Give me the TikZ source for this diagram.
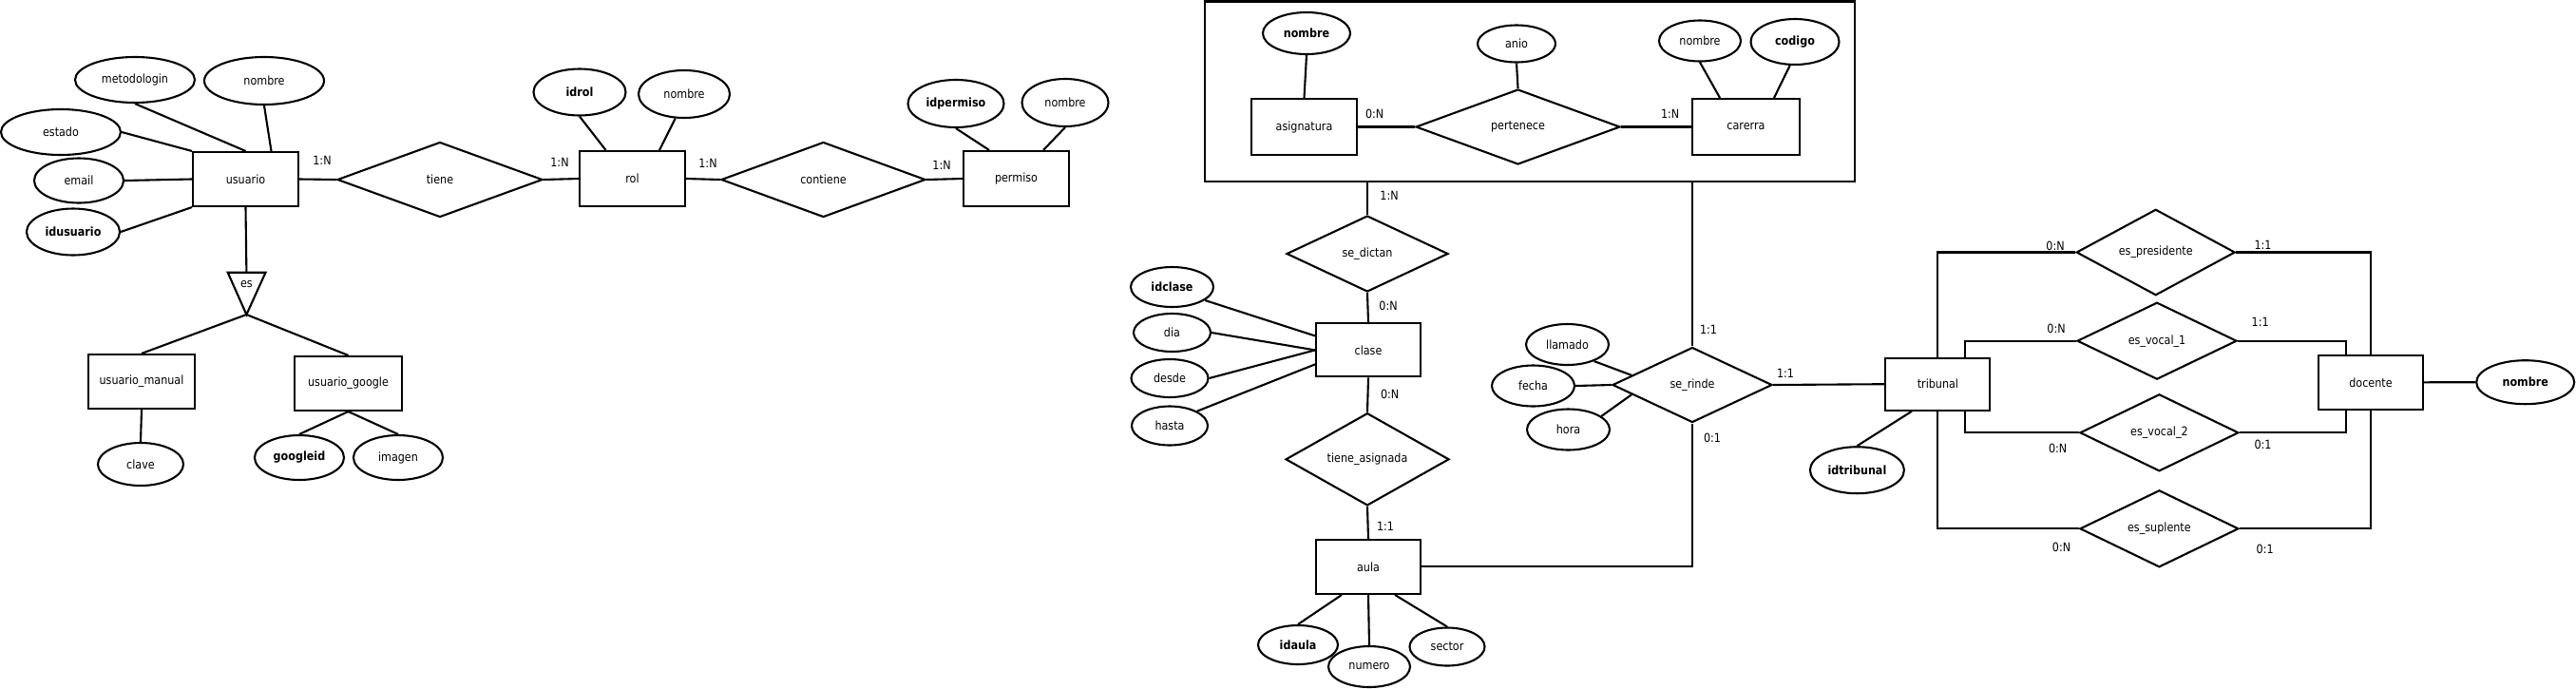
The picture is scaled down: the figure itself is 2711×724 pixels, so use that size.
\documentclass[tikz,border=0pt]{standalone}
\usepackage{fontspec}
\setmainfont{DejaVu Sans}[FakeStretch=0.88]
\usetikzlibrary{shapes.geometric,calc}
\tikzset{
  every node/.style={font=\fontsize{12.7}{15}\selectfont},
  lw/.style={line width=2.1pt},
  ent/.style={draw,lw,rectangle,inner sep=0pt},
  attr/.style={draw,lw,ellipse,inner sep=0pt},
  keyattr/.style={attr,font=\fontsize{12.7}{15}\selectfont\bfseries},
  rel/.style={draw,lw,diamond,inner sep=0pt},
  card/.style={inner sep=0pt},
  conn/.style={lw}
}
\begin{document}
\begin{tikzpicture}[x=1pt,y=-1pt]
\useasboundingbox (0,0) rectangle (2711,724);
% aggregation box
\node[draw,lw,minimum width=683.5pt,minimum height=189.5pt,inner sep=0pt] (agg) at (1610.1,96.25) {};
% entities
\node[ent,minimum width=111pt,minimum height=57pt] (usu) at (258.5,188.5) {usuario};
\node[ent,minimum width=111pt,minimum height=58pt] (rol) at (665.5,188) {rol};
\node[ent,minimum width=111pt,minimum height=58pt] (perm) at (1069.5,188) {permiso};
\node[ent,minimum width=112pt,minimum height=57pt] (um) at (149,401.5) {usuario\_manual};
\node[ent,minimum width=113pt,minimum height=57pt] (ug) at (366.5,403.5) {usuario\_google};
\node[ent,minimum width=111pt,minimum height=59pt] (asig) at (1372.5,133.5) {asignatura};
\node[ent,minimum width=113pt,minimum height=59pt] (car) at (1837.5,133.5) {carerra};
\node[ent,minimum width=110pt,minimum height=56pt] (clase) at (1440,368.4) {clase};
\node[ent,minimum width=110pt,minimum height=57pt] (aula) at (1440,596.4) {aula};
\node[ent,minimum width=110pt,minimum height=55pt] (trib) at (2039.4,404.2) {tribunal};
\node[ent,minimum width=110pt,minimum height=57pt] (doc) at (2495,402.3) {docente};
% attributes
\node[attr,minimum width=126pt,minimum height=48pt] (metodologin) at (142,84) {metodologin};
\node[attr,minimum width=126pt,minimum height=50pt] (usunombre) at (278,85) {nombre};
\node[attr,minimum width=126pt,minimum height=48pt] (estado) at (64,139) {estado};
\node[attr,minimum width=94pt,minimum height=47pt] (email) at (83,190) {email};
\node[keyattr,minimum width=98pt,minimum height=49pt] (idusuario) at (77,244) {idusuario};
\node[keyattr,minimum width=97pt,minimum height=49pt] (idrol) at (610,97) {idrol};
\node[attr,minimum width=96pt,minimum height=50pt] (rolnombre) at (720,99) {nombre};
\node[keyattr,minimum width=101pt,minimum height=50pt] (idpermiso) at (1006,109) {idpermiso};
\node[attr,minimum width=91pt,minimum height=50pt] (permnombre) at (1121,108) {nombre};
\node[attr,minimum width=90pt,minimum height=45pt] (clave) at (148,488.5) {clave};
\node[keyattr,minimum width=94pt,minimum height=47pt] (googleid) at (315,481.5) {googleid};
\node[attr,minimum width=94pt,minimum height=47pt] (imagen) at (419,481.5) {imagen};
\node[keyattr,minimum width=92pt,minimum height=44pt] (asignombre) at (1375,35) {nombre};
\node[attr,minimum width=82pt,minimum height=39pt] (anio) at (1596,46) {anio};
\node[attr,minimum width=86pt,minimum height=43pt] (carnombre) at (1789,43) {nombre};
\node[keyattr,minimum width=93pt,minimum height=48pt] (codigo) at (1889,44) {codigo};
\node[keyattr,minimum width=87pt,minimum height=42pt] (idclase) at (1233.5,302) {idclase};
\node[attr,minimum width=81pt,minimum height=40pt] (dia) at (1233.5,350) {dia};
\node[attr,minimum width=81pt,minimum height=40pt] (desde) at (1231,398) {desde};
\node[attr,minimum width=80pt,minimum height=41pt] (hasta) at (1231,448) {hasta};
\node[keyattr,minimum width=84pt,minimum height=41pt] (idaula) at (1366,678.5) {idaula};
\node[attr,minimum width=86pt,minimum height=43pt] (numero) at (1441,701.5) {numero};
\node[attr,minimum width=79pt,minimum height=40pt] (sector) at (1523,680.5) {sector};
\node[attr,minimum width=87pt,minimum height=43pt] (llamado) at (1649.5,362.5) {llamado};
\node[attr,minimum width=87pt,minimum height=43pt] (fecha) at (1613.5,406) {fecha};
\node[attr,minimum width=87pt,minimum height=43pt] (hora) at (1650.5,452) {hora};
\node[keyattr,minimum width=99pt,minimum height=49pt] (idtribunal) at (1954.4,494.7) {idtribunal};
\node[keyattr,minimum width=103pt,minimum height=46pt] (docnombre) at (2657.7,402.2) {nombre};
% relationships
\node[rel,minimum width=216pt,minimum height=79pt] (tiene) at (463,189) {tiene};
\node[rel,minimum width=215pt,minimum height=79pt] (contiene) at (866.5,189) {contiene};
\node[rel,minimum width=215pt,minimum height=79pt] (pertenece) at (1597.5,133.5) {pertenece};
\node[rel,minimum width=170pt,minimum height=80pt] (sedictan) at (1439,267) {se\_dictan};
\node[rel,minimum width=172pt,minimum height=81pt] (tieneasig) at (1439,483.3) {tiene\_asignada};
\node[rel,minimum width=168pt,minimum height=79pt] (serinde) at (1781,405) {se\_rinde};
\node[rel,minimum width=167pt,minimum height=81pt] (espres) at (2268.7,265.5) {es\_presidente};
\node[rel,minimum width=168pt,minimum height=81pt] (esvoc1) at (2270,358.7) {es\_vocal\_1};
\node[rel,minimum width=167pt,minimum height=81pt] (esvoc2) at (2272.4,455.3) {es\_vocal\_2};
\node[rel,minimum width=167pt,minimum height=81pt] (essup) at (2272.4,556.3) {es\_suplente};
% ISA triangle
\coordinate (estl) at (239.7,286.7);
\coordinate (estr) at (279.5,286.7);
\coordinate (estop) at (259.4,286.7);
\coordinate (estip) at (259.4,331);
\draw[lw,line join=miter] (estl) -- (estr) -- (estip) -- cycle;
\node[inner sep=0pt] (estext) at (259.4,299) {es};
% connectors: usuario
\draw[conn] (metodologin.south) -- (usu.north);
\draw[conn] (usunombre.south) -- ([xshift=27pt]usu.north);
\draw[conn] (estado.east) -- (usu.north west);
\draw[conn] (email.east) -- (usu.west);
\draw[conn] (idusuario.east) -- (usu.south west);
\draw[conn] (usu.east) -- (tiene.west);
\draw[conn] (tiene.east) -- (rol.west);
\draw[conn] (rol.east) -- (contiene.west);
\draw[conn] (contiene.east) -- (perm.west);
\draw[conn] (idrol.south) -- ([xshift=-28pt]rol.north);
\draw[conn] (rolnombre.250) -- ([xshift=28.5pt]rol.north);
\draw[conn] (idpermiso.south) -- ([xshift=-28.5pt]perm.north);
\draw[conn] (permnombre.south) -- ([xshift=28.5pt]perm.north);
\draw[conn] (usu.south) -- (estop);
\draw[conn] (estip) -- (um.north);
\draw[conn] (estip) -- (ug.north);
\draw[conn] (um.south) -- (clave.north);
\draw[conn] (ug.south) -- (googleid.north);
\draw[conn] (ug.south) -- (imagen.north);
% aggregation internals
\draw[conn] (asignombre.south) -- (asig.north);
\draw[conn] (asig.east) -- (pertenece.west);
\draw[conn] (pertenece.east) -- (car.west);
\draw[conn] (anio.south) -- (pertenece.north);
\draw[conn] (carnombre.south) -- ([xshift=-27.5pt]car.north);
\draw[conn] (codigo.258) -- ([xshift=29.5pt]car.north);
% clase / aula
\draw[conn] (sedictan.north |- agg.south) -- (sedictan.north);
\draw[conn] (sedictan.south) -- (clase.north);
\draw[conn] (clase.south) -- (tieneasig.north);
\draw[conn] (tieneasig.south) -- (aula.north);
\draw[conn] (idclase.-22) -- ([yshift=15pt]clase.west);
\draw[conn] (dia.east) -- (clase.west);
\draw[conn] (desde.east) -- (clase.west);
\draw[conn] (hasta.28) -- ([yshift=-15pt]clase.west);
\draw[conn] ([xshift=-28pt]aula.south) -- (idaula.north);
\draw[conn] (aula.south) -- (numero.north);
\draw[conn] ([xshift=28pt]aula.south) -- (sector.north);
% se_rinde
\draw[conn] (aula.east) -| (serinde.south);
\draw[conn] (serinde.north |- agg.south) -- (serinde.north);
\draw[conn] (llamado.-32) -- ($(serinde.west)!0.25!(serinde.north)$);
\draw[conn] (fecha.east) -- (serinde.west);
\draw[conn] (hora.22) -- ($(serinde.west)!0.25!(serinde.south)$);
\draw[conn] (serinde.east) -- (trib.west);
\draw[conn] ([xshift=-27.4pt]trib.south) -- (idtribunal.north);
% tribunal - docente
\draw[conn] (trib.north) |- (espres.west);
\draw[conn] (espres.east) -| (doc.north);
\draw[conn] ([xshift=28.6pt]trib.north) |- (esvoc1.west);
\draw[conn] (esvoc1.east) -| ([xshift=-26pt]doc.north);
\draw[conn] ([xshift=28.6pt]trib.south) |- (esvoc2.west);
\draw[conn] (esvoc2.east) -| ([xshift=-26pt]doc.south);
\draw[conn] (trib.south) |- (essup.west);
\draw[conn] (essup.east) -| (doc.south);
\draw[conn] (doc.east) -- (docnombre.west);
% cardinalities
\node[card] (c1) at (339,169) {1:N};
\node[card] (c2) at (589,171) {1:N};
\node[card] (c3) at (745,172) {1:N};
\node[card] (c4) at (991,174) {1:N};
\node[card] (c5) at (1446.6,120) {0:N};
\node[card] (c6) at (1757.7,120) {1:N};
\node[card] (c7) at (1462,206) {1:N};
\node[card] (c8) at (1461,322) {0:N};
\node[card] (c9) at (1462.6,415) {0:N};
\node[card] (c10) at (1458,553.6) {1:1};
\node[card] (c11) at (1798,346.5) {1:1};
\node[card] (c12) at (1802,461) {0:1};
\node[card] (c13) at (1879,392.7) {1:1};
\node[card] (c14) at (2163,259.3) {0:N};
\node[card] (c15) at (2381.5,258) {1:1};
\node[card] (c16) at (2164,345.7) {0:N};
\node[card] (c17) at (2378.7,339.3) {1:1};
\node[card] (c18) at (2165.7,471.7) {0:N};
\node[card] (c19) at (2381.5,468.3) {0:1};
\node[card] (c20) at (2169.5,576) {0:N};
\node[card] (c21) at (2383.7,577.7) {0:1};
\end{tikzpicture}
\end{document}
